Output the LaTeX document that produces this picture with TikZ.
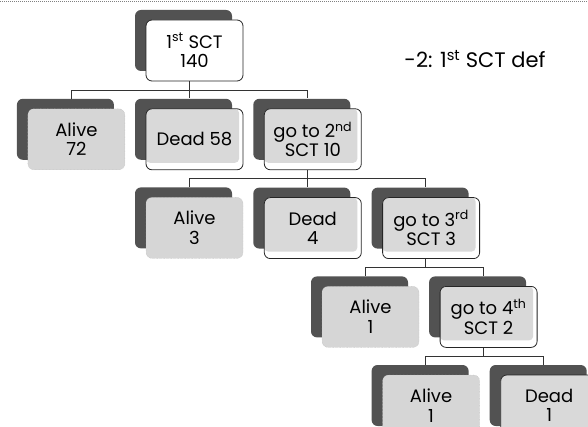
\documentclass[tikz,border=0pt]{standalone}
\usepackage{fontspec}
\setmainfont{Poppins}
\usepackage{tikz}
\usetikzlibrary{positioning, shadows}

\begin{document}
\begin{tikzpicture}[
    x=1pt, y=-1pt,
    font=\fontsize{18}{19.5}\selectfont,
    node distance=27pt and 20.5pt,
    base/.style={rectangle, rounded corners=6pt, align=center, minimum width=97pt, minimum height=61pt, inner sep=2pt,
        general shadow={shadow xshift=-11pt, shadow yshift=10pt, fill=black!68}},
    alive/.style={base, draw=gray!55, densely dotted, fill=gray!32},
    branch/.style={base, draw=black!85, line width=0.8pt, fill=white,
        path picture={\fill[gray!30, rounded corners=4pt] (path picture bounding box.north west) rectangle ([xshift=-4pt, yshift=7pt]path picture bounding box.south east);}},
    top/.style={base, draw=black!85, line width=0.8pt, fill=white},
    line/.style={draw=black!80, line width=0.7pt}
]
    \clip (0,0) rectangle (588,427);
    \draw [gray, densely dotted, line width=1pt] (0,1.5) -- (588,1.5);

    % --- nodes ---
    \node [top] (root) at (194.5,50.5) {1\textsuperscript{st} SCT\\ 140};
    \node (title) at (475,59) [font=\fontsize{21}{23}\selectfont] {-2: 1\textsuperscript{st} SCT def};

    % level 1
    \node [branch] (dead58) [below=of root] {Dead 58};
    \node [alive] (alive72) [left=of dead58] {Alive\\ 72};
    \node [branch] (go2) [right=of dead58] {go to 2\textsuperscript{nd}\\ SCT 10};

    % level 2
    \node [alive] (alive3) [below=of dead58] {Alive\\ 3};
    \node [branch] (dead4) [below=of go2] {Dead\\ 4};
    \node [branch] (go3) [right=of dead4] {go to 3\textsuperscript{rd}\\ SCT 3};

    % level 3
    \node [branch] (go4) [below=of go3, xshift=57.5pt] {go to 4\textsuperscript{th}\\ SCT 2};
    \node [alive] (alive1) [left=of go4] {Alive\\ 1};

    % level 4
    \node [alive] (alive1b) [below=of go4, xshift=-57.5pt] {Alive\\ 1};
    \node [branch] (dead1) [right=of alive1b] {Dead\\ 1};

    % --- connectors (to the shadow centres) ---
    \draw [line] ([xshift=-5.5pt]root.south) -- ++(0,8.5) -| ([xshift=-5.5pt, yshift=10pt]alive72.north);
    \draw [line] ([xshift=-5.5pt]root.south) -- ([xshift=-5.5pt, yshift=10pt]dead58.north);
    \draw [line] ([xshift=-5.5pt]root.south) -- ++(0,8.5) -| ([xshift=-5.5pt, yshift=10pt]go2.north);

    \draw [line] ([xshift=-5.5pt]go2.south) -- ++(0,8.5) -| ([xshift=-5.5pt, yshift=10pt]alive3.north);
    \draw [line] ([xshift=-5.5pt]go2.south) -- ([xshift=-5.5pt, yshift=10pt]dead4.north);
    \draw [line] ([xshift=-5.5pt]go2.south) -- ++(0,8.5) -| ([xshift=-5.5pt, yshift=10pt]go3.north);

    \draw [line] ([xshift=-5.5pt]go3.south) -- ++(0,8.5) -| ([xshift=-5.5pt, yshift=10pt]alive1.north);
    \draw [line] ([xshift=-5.5pt]go3.south) -- ++(0,8.5) -| ([xshift=-5.5pt, yshift=10pt]go4.north);

    \draw [line] ([xshift=-5.5pt]go4.south) -- ++(0,8.5) -| ([xshift=-5.5pt, yshift=10pt]alive1b.north);
    \draw [line] ([xshift=-5.5pt]go4.south) -- ++(0,8.5) -| ([xshift=-5.5pt, yshift=10pt]dead1.north);

\end{tikzpicture}
\end{document}
